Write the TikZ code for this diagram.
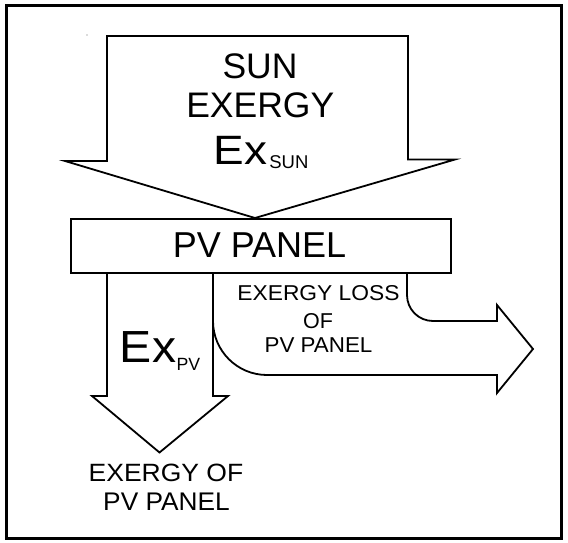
\documentclass[tikz,border=0pt]{standalone}
\usepackage{fontspec}
\setmainfont{Liberation Sans}
\newcommand{\fs}[1]{\fontsize{#1}{#1}\selectfont}
\begin{document}
\begin{tikzpicture}[x=1pt,y=-1pt,
  blockarrow/.style={draw=black, line width=1.8pt, line join=miter},
  lbl/.style={inner sep=0pt, anchor=base, text=black}]
\useasboundingbox (0,0) rectangle (568,543);
\draw[line width=3pt] (6.5,5.5) rectangle (561.5,538);
\fill[black!60] (87,35) circle (0.7);
% sun arrow
\draw[blockarrow] (107,36) -- (408,36) -- (408,159.5) -- (455,159.5) -- (255,218) -- (65,161) -- (107,161) -- cycle;
% panel
\node[draw, line width=2.2pt, minimum width=380pt, minimum height=54pt, inner sep=0pt, anchor=north west] (panel) at (70,218) {};
% down arrow
\draw[blockarrow] (107,272) -- (107,396) -- (92,396) -- (159.5,452.5) -- (228,396) -- (213,396) -- (213,272);
% loss arrow
\draw[blockarrow] (213,272) -- (213,321) .. controls (213,350.8) and (237.2,375) .. (267,375) -- (497,375) -- (497,393) -- (533,349) -- (497,305) -- (497,321) -- (433,321) .. controls (418.6,321) and (407,309.4) .. (407,295) -- (407,272);
% texts
\node[lbl, font=\fs{35.5}] (sun) at (260,78.3) {SUN};
\node[lbl, font=\fs{35.5}] (exergy) at (260.3,117.5) {EXERGY};
\node[lbl, anchor=base west] (exsun) at (213.4,164.5) {\scalebox{1.12}[1]{\fs{41}Ex}\hspace{2.2pt}\raisebox{-3.8pt}{\fs{18.5}SUN}};
\node[lbl, font=\fs{36}] (paneltxt) at (259.5,257.3) {PV PANEL};
\node[lbl] (loss1) at (318.5,300.7) {\scalebox{1.06}[1]{\fs{21.5}EXERGY LOSS}};
\node[lbl, font=\fs{21.5}] (loss2) at (318,328) {OF};
\node[lbl] (loss3) at (318.5,352) {\scalebox{1.04}[1]{\fs{21.5}PV PANEL}};
\node[lbl, anchor=base west] (expv) at (119.7,362) {\scalebox{1.07}[1]{\fs{45}Ex}\hspace{0.5pt}\raisebox{-8pt}{\fs{17.7}PV}};
\node[lbl] (out1) at (166,481.5) {\scalebox{1.06}[1]{\fs{25}EXERGY OF}};
\node[lbl] (out2) at (166.5,510.5) {\scalebox{1.03}[1]{\fs{25.5}PV PANEL}};
\end{tikzpicture}
\end{document}
